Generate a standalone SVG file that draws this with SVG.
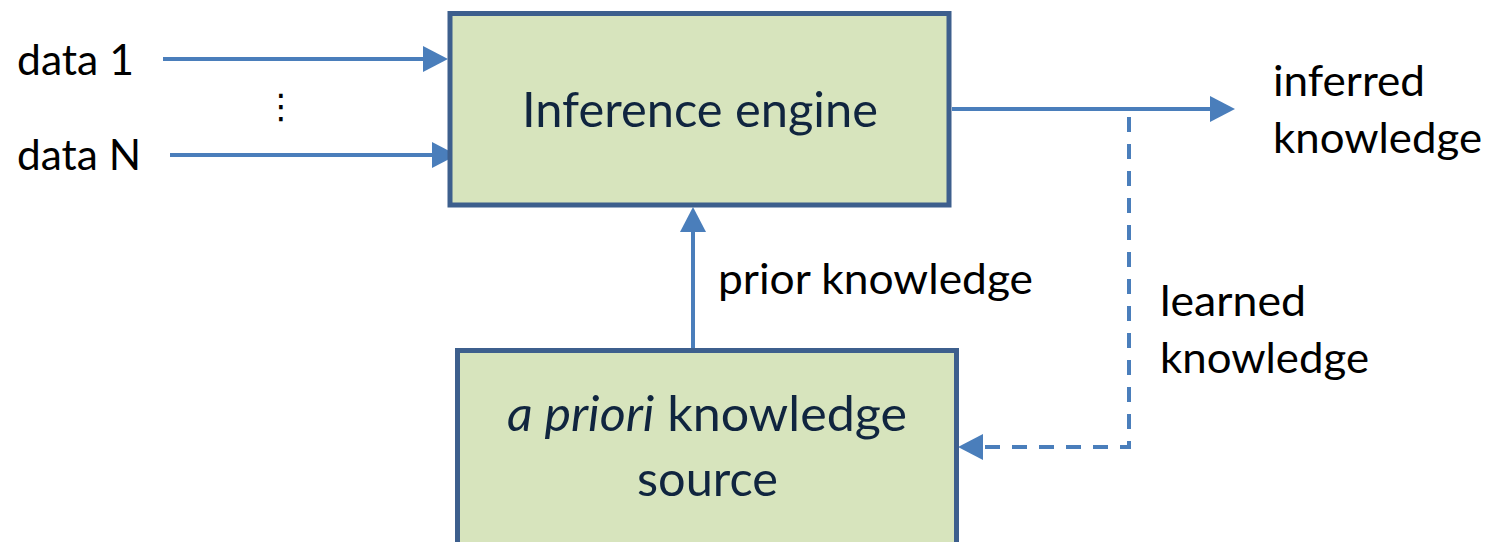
<svg xmlns="http://www.w3.org/2000/svg" width="1495" height="542" viewBox="0 0 1495 542">
<style>
.box{fill:#d7e4bd;stroke:#3d5f8d;stroke-width:5}
.btxt{font-family:Lato,"Open Sans",sans-serif;font-size:48px;fill:#10253f}
.otxt{font-family:Lato,"Open Sans",sans-serif;font-size:43px;fill:#000}
.conn{stroke:#4a7ebb;stroke-width:4;fill:none}
.dash{stroke-dasharray:15 12}
</style>
<defs>
<marker id="ah" viewBox="0 0 25 26" refX="15" refY="13" markerWidth="25" markerHeight="26" markerUnits="userSpaceOnUse" orient="auto">
<path d="M0,0 L25,13 L0,26 z" fill="#4a7ebb"/>
</marker>
</defs>
<rect width="1495" height="542" fill="#fff"/>
<g id="connectors">
<path class="conn" d="M163,59 H438" marker-end="url(#ah)"/>
<path class="conn" d="M170,155 H447" marker-end="url(#ah)"/>
<path class="conn" d="M952,109 H1225" marker-end="url(#ah)"/>
<path class="conn" d="M693,349 V217" marker-end="url(#ah)"/>
<path class="conn dash" d="M1129,117 V447 H968" marker-end="url(#ah)"/>
</g>
<g id="inference-engine">
<rect class="box" x="450" y="13.5" width="499" height="191.5"/>
<text class="btxt" x="522" y="127" textLength="356" lengthAdjust="spacingAndGlyphs">Inference engine</text>
</g>
<g id="apriori-source">
<rect class="box" x="457.5" y="350.5" width="499" height="195"/>
<text class="btxt" x="507" y="431" textLength="400" lengthAdjust="spacingAndGlyphs"><tspan font-style="italic">a priori</tspan> knowledge</text>
<text class="btxt" x="637" y="496" textLength="141" lengthAdjust="spacingAndGlyphs">source</text>
</g>
<g id="labels">
<text class="otxt" x="17" y="75" textLength="117" lengthAdjust="spacingAndGlyphs">data 1</text>
<text class="otxt" x="17" y="170" textLength="124" lengthAdjust="spacingAndGlyphs">data N</text>
<text x="281" y="118" font-family="DejaVu Sans,sans-serif" font-size="34" text-anchor="middle" fill="#000">⋮</text>
<text class="otxt" x="718" y="294" textLength="315" lengthAdjust="spacingAndGlyphs">prior knowledge</text>
<text class="otxt" x="1273" y="96" textLength="152" lengthAdjust="spacingAndGlyphs">inferred</text>
<text class="otxt" x="1273" y="153" textLength="209" lengthAdjust="spacingAndGlyphs">knowledge</text>
<text class="otxt" x="1160" y="316" textLength="146" lengthAdjust="spacingAndGlyphs">learned</text>
<text class="otxt" x="1160" y="373" textLength="209" lengthAdjust="spacingAndGlyphs">knowledge</text>
</g>
</svg>
